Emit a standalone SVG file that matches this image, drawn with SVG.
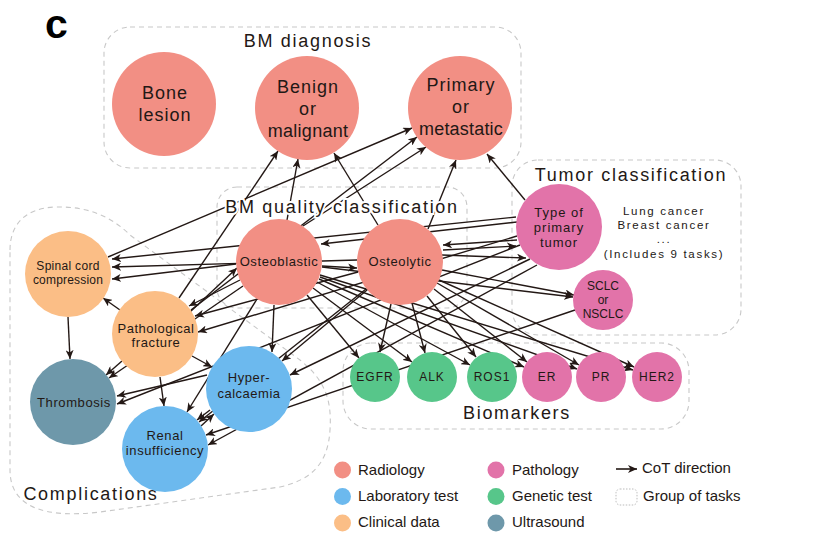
<svg xmlns="http://www.w3.org/2000/svg" width="833" height="550" viewBox="0 0 833 550">
<defs>
<style>
.grp{fill:none;stroke:#c8c8c8;stroke-width:1.1;stroke-dasharray:5 4}
.gt{font-family:"Liberation Sans",Arial,sans-serif;font-size:18px;fill:#231815;text-anchor:middle;letter-spacing:1.7px}
#connectors line{stroke:#231815;stroke-width:1.4;marker-end:url(#ah)}
.n text{font-family:"Liberation Sans",Arial,sans-serif;fill:#231815;text-anchor:middle}
.rad{fill:#F28F84}.pat{fill:#E273A9}.lab{fill:#6CB9EE}.gen{fill:#57C68A}.cli{fill:#FBBE86}.us{fill:#6E98AA}
.big text{font-size:18px;letter-spacing:1px}
.mid text{font-size:13px;letter-spacing:0.6px}
.sm text{font-size:12px;letter-spacing:1px}
.lg{font-family:"Liberation Sans",Arial,sans-serif;font-size:15px;fill:#231815}
.tc{font-family:"Liberation Sans",Arial,sans-serif;font-size:11.5px;fill:#231815;text-anchor:middle;letter-spacing:1.7px}
</style>
<marker id="ah" markerUnits="userSpaceOnUse" markerWidth="10" markerHeight="8" refX="9" refY="4" orient="auto"><path d="M0,0 L9,4 L0,8 L2.5,4 Z" fill="#231815"/></marker>
</defs>
<rect width="833" height="550" fill="#fff"/>
<text x="45" y="37.5" font-family="Liberation Sans,Arial,sans-serif" font-weight="bold" font-size="41" fill="#000">c</text>

<g id="groups">
<rect id="g-diagnosis" class="grp" x="104" y="27" width="417" height="141" rx="26"/>
<rect id="g-quality" class="grp" x="217" y="187" width="250" height="121" rx="20"/>
<rect id="g-tumor" class="grp" x="512" y="160" width="229" height="175" rx="26"/>
<rect id="g-biomarkers" class="grp" x="343" y="343" width="346" height="86" rx="28"/>
<path id="g-complications" class="grp" d="M10,250 C10,225 25,208 55,207 C85,206 110,215 130,235 L300,360 C325,380 332,400 330,430 C328,465 310,480 280,487 L100,512 C50,518 10,510 10,470 Z"/>
</g>

<g id="connectors">
<line x1="179" y1="298" x2="278" y2="151"/>
<line x1="287" y1="220" x2="298" y2="159"/>
<line x1="378" y1="225" x2="334" y2="153"/>
<line x1="108" y1="257" x2="412" y2="128"/>
<line x1="191" y1="310" x2="417" y2="137"/>
<line x1="303" y1="226" x2="426" y2="147"/>
<line x1="428" y1="229" x2="456" y2="160"/>
<line x1="525" y1="200" x2="487" y2="154"/>
<line x1="516" y1="217" x2="112" y2="259"/>
<line x1="357" y1="260" x2="112" y2="267"/>
<line x1="236" y1="264" x2="112" y2="279"/>
<line x1="120" y1="310" x2="103" y2="298"/>
<line x1="190" y1="312" x2="237" y2="268"/>
<line x1="517" y1="222" x2="321" y2="244"/>
<line x1="322" y1="266" x2="357" y2="268"/>
<line x1="517" y1="240" x2="443" y2="245"/>
<line x1="443" y1="250" x2="516" y2="246"/>
<line x1="442" y1="255" x2="526" y2="258"/>
<line x1="240" y1="280" x2="189" y2="306"/>
<line x1="358" y1="272" x2="195" y2="316"/>
<line x1="517" y1="236" x2="198" y2="332"/>
<line x1="68" y1="317" x2="70" y2="359"/>
<line x1="122" y1="361" x2="106" y2="375"/>
<line x1="243" y1="286" x2="109" y2="378"/>
<line x1="207" y1="375" x2="117" y2="396"/>
<line x1="520" y1="245" x2="117" y2="404"/>
<line x1="192" y1="356" x2="212" y2="367"/>
<line x1="274" y1="305" x2="272" y2="352"/>
<line x1="367" y1="290" x2="282" y2="361"/>
<line x1="530" y1="259" x2="290" y2="375"/>
<line x1="201" y1="426" x2="214" y2="414"/>
<line x1="210" y1="410" x2="197" y2="420"/>
<line x1="160" y1="377" x2="164" y2="406"/>
<line x1="257" y1="299" x2="187" y2="412"/>
<line x1="366" y1="289" x2="199" y2="422"/>
<line x1="575" y1="310" x2="206" y2="435"/>
<line x1="537" y1="265" x2="208" y2="445"/>
<line x1="307" y1="295" x2="359" y2="358"/>
<line x1="391" y1="304" x2="380" y2="352"/>
<line x1="313" y1="288" x2="412" y2="362"/>
<line x1="412" y1="303" x2="425" y2="353"/>
<line x1="317" y1="282" x2="470" y2="365"/>
<line x1="427" y1="296" x2="476" y2="357"/>
<line x1="319" y1="279" x2="524" y2="367"/>
<line x1="434" y1="289" x2="527" y2="362"/>
<line x1="320" y1="277" x2="577" y2="369"/>
<line x1="437" y1="283" x2="579" y2="365"/>
<line x1="320" y1="275" x2="633" y2="370"/>
<line x1="439" y1="280" x2="634" y2="367"/>
<line x1="322" y1="267" x2="573" y2="297"/>
<line x1="442" y1="270" x2="574" y2="295"/>
</g>

<g id="group-titles">
<text class="gt" x="308" y="47">BM diagnosis</text>
<text class="gt" x="342" y="213" stroke="#fff" stroke-width="4" paint-order="stroke">BM quality classification</text>
<text class="gt" x="631" y="181">Tumor classification</text>
<text class="gt" x="517" y="419">Biomarkers</text>
<text class="gt" x="91" y="500">Complications</text>
</g>

<g id="node-bone-lesion" class="n big"><circle class="rad" cx="164" cy="104" r="52"/><text x="165" y="99" font-size="19">Bone</text><text x="165" y="121">lesion</text></g>
<g id="node-benign" class="n big"><circle class="rad" cx="307" cy="108" r="52"/><text x="308" y="93">Benign</text><text x="308" y="115">or</text><text x="308" y="137" style="letter-spacing:0.3px">malignant</text></g>
<g id="node-primary" class="n big"><circle class="rad" cx="460" cy="108" r="52"/><text x="461" y="91">Primary</text><text x="461" y="113">or</text><text x="461" y="135" style="letter-spacing:0.2px">metastatic</text></g>
<g id="node-osteoblastic" class="n mid"><circle class="rad" cx="279" cy="262" r="43"/><text x="279" y="266">Osteoblastic</text></g>
<g id="node-osteolytic" class="n mid"><circle class="rad" cx="400" cy="262" r="43"/><text x="400" y="266">Osteolytic</text></g>
<g id="node-type" class="n mid"><circle class="pat" cx="559" cy="227" r="43"/><text x="559" y="217" style="letter-spacing:1px">Type of</text><text x="559" y="232" style="letter-spacing:1px">primary</text><text x="559" y="247" style="letter-spacing:1px">tumor</text></g>
<g id="node-sclc" class="n"><circle class="pat" cx="603" cy="300" r="30"/><text x="603" y="290" font-size="12">SCLC</text><text x="603" y="304" font-size="12">or</text><text x="603" y="318" font-size="12">NSCLC</text></g>
<g id="node-spinal" class="n"><circle class="cli" cx="68" cy="274" r="43"/><text x="68" y="270" font-size="12" letter-spacing="0.3">Spinal cord</text><text x="68" y="284" font-size="12" letter-spacing="0.2">compression</text></g>
<g id="node-fracture" class="n mid"><circle class="cli" cx="155" cy="334" r="43"/><text x="156" y="333" style="letter-spacing:0.5px">Pathological</text><text x="156" y="347">fracture</text></g>
<g id="node-thrombosis" class="n mid"><circle class="us" cx="73" cy="402" r="43"/><text x="74" y="407">Thrombosis</text></g>
<g id="node-hyper" class="n mid"><circle class="lab" cx="249" cy="389" r="43"/><text x="249" y="382">Hyper-</text><text x="249" y="398" style="letter-spacing:0.5px">calcaemia</text></g>
<g id="node-renal" class="n mid"><circle class="lab" cx="165" cy="449" r="43"/><text x="165" y="440">Renal</text><text x="165" y="455">insufficiency</text></g>
<g id="node-egfr" class="n sm"><circle class="gen" cx="375" cy="377" r="25"/><text x="375" y="381">EGFR</text></g>
<g id="node-alk" class="n sm"><circle class="gen" cx="432" cy="377" r="25"/><text x="432" y="381">ALK</text></g>
<g id="node-ros1" class="n sm"><circle class="gen" cx="492" cy="377" r="25"/><text x="492" y="381">ROS1</text></g>
<g id="node-er" class="n sm"><circle class="pat" cx="547" cy="377" r="25"/><text x="547" y="381">ER</text></g>
<g id="node-pr" class="n sm"><circle class="pat" cx="601" cy="377" r="25"/><text x="601" y="381">PR</text></g>
<g id="node-her2" class="n sm"><circle class="pat" cx="657" cy="377" r="25"/><text x="657" y="381">HER2</text></g>

<g id="tumor-list">
<text class="tc" x="664" y="215">Lung cancer</text>
<text class="tc" x="664" y="229">Breast cancer</text>
<text class="tc" x="664" y="243">...</text>
<text class="tc" x="664" y="258">(Includes 9 tasks)</text>
</g>

<g id="legend">
<circle class="rad" cx="342.5" cy="470" r="8.5"/><text class="lg" x="358" y="475">Radiology</text>
<circle class="lab" cx="342.5" cy="496.5" r="8.5"/><text class="lg" x="358" y="501">Laboratory test</text>
<circle class="cli" cx="342.5" cy="523" r="8.5"/><text class="lg" x="358" y="527">Clinical data</text>
<circle class="pat" cx="496" cy="470" r="8.5"/><text class="lg" x="512" y="475">Pathology</text>
<circle class="gen" cx="496" cy="496.5" r="8.5"/><text class="lg" x="512" y="501">Genetic test</text>
<circle class="us" cx="496" cy="523" r="8.5"/><text class="lg" x="512" y="527">Ultrasound</text>
<line x1="616" y1="469" x2="637" y2="469" stroke="#231815" stroke-width="1.6" marker-end="url(#ah)"/>
<text class="lg" x="642" y="473">CoT direction</text>
<rect x="616" y="489" width="21" height="16" rx="4" fill="none" stroke="#bbb" stroke-width="1" stroke-dasharray="1.5 1.5"/>
<text class="lg" x="643" y="501">Group of tasks</text>
</g>
</svg>
